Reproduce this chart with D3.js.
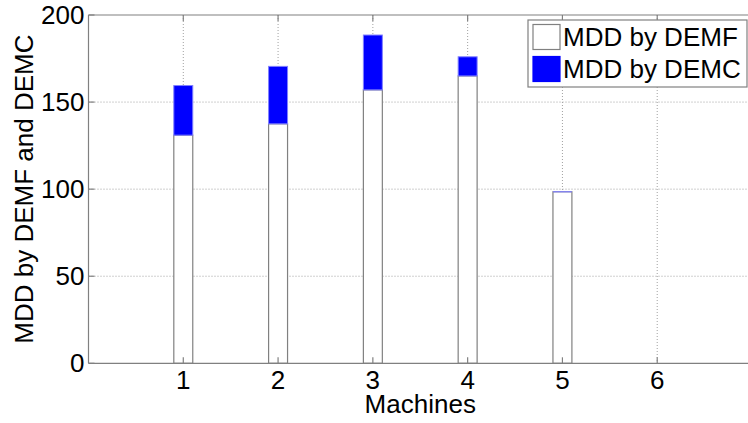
<!doctype html>
<html>
<head>
<meta charset="utf-8">
<script src="https://d3js.org/d3.v7.min.js"></script>
<style>
  body { margin: 0; background: #fff; }
  svg text { font-family: Arial, "Liberation Sans", sans-serif; fill: #000; }
</style>
</head>
<body>
<svg width="748" height="423"></svg>
<script>
// data
var machines = [1, 2, 3, 4, 5, 6];
var demf = [131, 137.5, 157, 165, 98.5, 0];
var demc = [28.5, 33, 31.5, 11, 0, 0];
var yTicks = [0, 50, 100, 150, 200];
var seriesNames = ["MDD by DEMF", "MDD by DEMC"];

var svg = d3.select("svg");
var pLeft = 88.5, pTop = 15, pBottom = 363.3, pRight = 752;

var x = d3.scaleLinear().domain([0, 7]).range([pLeft, pRight]);
var y = d3.scaleLinear().domain([0, 200]).range([pBottom, pTop]);
var barW = x(0.2) - x(0);

// grid
var grid = svg.append("g");
grid.selectAll(".gy").data(yTicks.slice(1, 4)).enter().append("line")
    .attr("x1", pLeft).attr("x2", pRight)
    .attr("y1", function(d) { return y(d); }).attr("y2", function(d) { return y(d); })
    .attr("stroke", "#a0a0a0").attr("stroke-dasharray", "1,2");
grid.selectAll(".gx").data(machines).enter().append("line")
    .attr("y1", pTop).attr("y2", pBottom)
    .attr("x1", function(d) { return x(d); }).attr("x2", function(d) { return x(d); })
    .attr("stroke", "#a0a0a0").attr("stroke-dasharray", "1,2");

// stacked bars
var stackData = machines.map(function(m, i) { return {m: m, a: demf[i], b: demc[i]}; });
var bars = svg.append("g");
bars.selectAll(".f").data(stackData.filter(function(d) { return d.a > 0; }))
  .enter().append("rect")
    .attr("x", function(d) { return x(d.m) - barW / 2; })
    .attr("width", barW)
    .attr("y", function(d) { return y(d.a); })
    .attr("height", function(d) { return y(0) - y(d.a); })
    .attr("fill", "#fff").attr("stroke", "#808080").attr("stroke-width", 1.2);
bars.selectAll(".c").data(stackData.filter(function(d) { return d.b > 0; }))
  .enter().append("rect")
    .attr("x", function(d) { return x(d.m) - barW / 2; })
    .attr("width", barW)
    .attr("y", function(d) { return y(d.a + d.b); })
    .attr("height", function(d) { return y(d.a) - y(d.a + d.b); })
    .attr("fill", "#0000ff").attr("stroke", "#8080ff").attr("stroke-width", 1);
// zero-height DEMC segment still shows its blue edge
bars.selectAll(".z").data(stackData.filter(function(d) { return d.b === 0 && d.a > 0; }))
  .enter().append("line")
    .attr("x1", function(d) { return x(d.m) - barW / 2; })
    .attr("x2", function(d) { return x(d.m) + barW / 2; })
    .attr("y1", function(d) { return y(d.a); })
    .attr("y2", function(d) { return y(d.a); })
    .attr("stroke", "#8080ff").attr("stroke-width", 1.2);

// axes box
var ax = svg.append("g").attr("stroke", "#808080").attr("stroke-width", 1.2);
ax.append("line").attr("x1", pLeft).attr("x2", pRight).attr("y1", pTop).attr("y2", pTop);
ax.append("line").attr("x1", pLeft).attr("x2", pRight).attr("y1", pBottom).attr("y2", pBottom);
ax.append("line").attr("x1", pLeft).attr("x2", pLeft).attr("y1", pTop).attr("y2", pBottom);
machines.forEach(function(m) {
  ax.append("line").attr("x1", x(m)).attr("x2", x(m)).attr("y1", pBottom).attr("y2", pBottom - 6);
  ax.append("line").attr("x1", x(m)).attr("x2", x(m)).attr("y1", pTop).attr("y2", pTop + 6);
});
yTicks.forEach(function(t) {
  ax.append("line").attr("x1", pLeft).attr("x2", pLeft + 6).attr("y1", y(t)).attr("y2", y(t));
});

// tick labels
svg.selectAll(".yl").data(yTicks).enter().append("text")
    .attr("x", pLeft - 4).attr("y", function(d) { return y(d); })
    .attr("dy", "0.35em").attr("text-anchor", "end")
    .attr("font-size", 26).text(function(d) { return d; });
svg.selectAll(".xl").data(machines).enter().append("text")
    .attr("x", function(d) { return x(d); }).attr("y", 389)
    .attr("text-anchor", "middle")
    .attr("font-size", 26).text(function(d) { return d; });

svg.append("text").attr("x", (pLeft + pRight) / 2).attr("y", 413)
    .attr("text-anchor", "middle").attr("font-size", 26).text("Machines");
svg.append("text").attr("transform", "translate(33," + (pTop + pBottom) / 2 + ") rotate(-90)")
    .attr("text-anchor", "middle").attr("font-size", 26).text("MDD by DEMF and DEMC");

// legend
var lg = svg.append("g");
lg.append("rect").attr("x", 528).attr("y", 20).attr("width", 219).attr("height", 67)
    .attr("fill", "#fff").attr("stroke", "#808080").attr("stroke-width", 1.2);
var swatch = [{fill: "#fff", stroke: "#808080"}, {fill: "#0000ff", stroke: "#0000ff"}];
seriesNames.forEach(function(n, i) {
  lg.append("rect").attr("x", 533).attr("y", 24.5 + i * 32).attr("width", 27).attr("height", 25)
      .attr("fill", swatch[i].fill).attr("stroke", swatch[i].stroke).attr("stroke-width", 1.2);
  lg.append("text").attr("x", 563).attr("y", 46 + i * 32)
      .attr("font-size", 26).text(n);
});
</script>
</body>
</html>
